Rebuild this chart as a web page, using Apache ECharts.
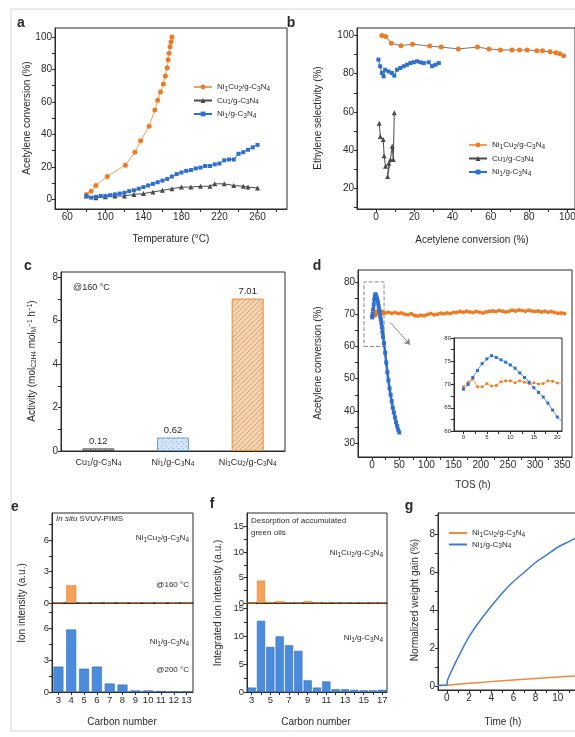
<!DOCTYPE html>
<html>
<head>
<meta charset="utf-8">
<script src="https://cdn.jsdelivr.net/npm/echarts@6/dist/echarts.min.js"></script>
<style>
  html, body { margin: 0; padding: 0; background: #fff; }
  #chart { width: 575px; height: 737px; }
</style>
</head>
<body>
<div id="chart"></div>
<script>
// ---- data ----
// a: conversion vs temperature
const aNiCu = [[80,3],[85,5],[90,8.5],[102,14],[121,21],[131,29],[137,36],[146,45],[152,55],[155,61],[158,66],[161,71],[163,76],[165,81],[166,86],[167,90],[168,94],[169,97],[170,100]]
const aCu = [[80,2],[90,1],[100,1.5],[110,2],[120,2],[130,3],[140,3.5],[150,4.5],[160,5.5],[170,6.5],[180,7.5],[190,7.5],[200,8],[210,8],[215,9.5],[225,9.5],[235,8.5],[245,8],[250,7.5],[260,7]]
const aNi = [[80,2],[85,1],[90,1.5],[95,2],[100,2],[105,2.5],[110,3],[115,3.5],[120,4],[125,5],[130,5.5],[135,6.5],[140,7.5],[145,8.5],[150,9.5],[155,10.5],[160,11.5],[165,12.5],[170,14],[175,15.5],[180,16.5],[185,17.5],[190,18],[195,19],[200,19.5],[205,20.5],[210,20.5],[215,21.5],[220,22],[225,24],[230,24.5],[235,24.5],[240,28],[245,29],[250,30.5],[255,32],[260,33.5]]

// b: selectivity vs conversion
const bNiCu = [[3,100],[5,99.5],[8,96],[13,94.7],[19,95.5],[28,94.5],[34,94],[43,93],[53,94],[59,93],[65,92.5],[71,92.5],[75,92.5],[79,92.5],[84,92],[87,92],[91,91.5],[94,91],[96,90.5],[98,89.5]]
const bCu = [[1.6,54],[2.2,47],[3.7,45.5],[4.2,37],[4.9,31.5],[6.6,33],[6,26],[7.5,35],[8.4,42],[9,35],[9.5,59.5]]
const bNi = [[1.2,87.4],[2.1,83.9],[3,80.4],[3.9,78.6],[4.7,82.1],[6.5,81.2],[8.2,80.4],[9.5,79],[10.9,82.1],[12.6,83],[14.4,83.9],[16.1,84.7],[17.9,85.6],[19.6,86],[21.4,86.5],[23.2,86],[24.9,85.6],[27.5,86],[29.3,84],[31,84.7],[32.8,85.6]]

// c: activity at 160 C
const cCats = ['Cu1/g-C3N4', 'Ni1/g-C3N4', 'Ni1Cu2/g-C3N4']
const cVals = [0.12, 0.62, 7.01]

// d: stability (TOS)
const dNiCu = [[0,69.5],[1,70.5],[2,71.2],[3,69.5],[4,69.5],[5,70.2],[6,69.7],[7,69.8],[8,70.6],[9,70.8],[10,70.8],[11,70.4],[12,70.8],[13,70.5],[14,70.2],[15,70.4],[16,70.1],[17,70.2],[18,70.8],[19,70.7],[20,70.3],
  [24,70.4],[30,70.6],[36,70.3],[42,70.5],[48,70.2],[54,70.4],[60,70.0],[66,69.8],[72,70.1],[78,69.6],[84,69.4],[90,69.7],[96,69.5],[102,69.9],[108,70.2],[114,69.8],[120,70.0],[126,70.3],[132,70.1],[138,70.4],[144,70.2],[150,70.6],[156,70.5],[162,70.8],[168,70.6],[174,70.9],[180,70.7],[186,70.5],[192,70.8],[198,70.6],[204,70.4],[210,70.7],[216,70.9],[222,71.0],[228,70.8],[234,71.1],[240,70.9],[246,70.7],[252,70.9],[258,71.2],[264,71.0],[270,71.3],[276,71.1],[282,70.9],[288,71.2],[294,71.0],[300,70.8],[306,71.0],[312,70.7],[318,70.9],[324,70.6],[330,70.8],[336,70.5],[342,70.3],[348,70.4],[354,70.2]]
const dNi = [[0,69],[1,70],[2,71.5],[3,73],[4,74.5],[5,75.5],[6,76.2],[7,75.8],[8,75.3],[9,74.8],[10,74.2],[11,73.5],[12,72.5],[13,71.5],[14,70.5],[15,69.3],[16,68.3],[17,67.3],[18,66],[19,64.5],[20,63],
  [22,61],[24,58],[26,55],[28,52],[30,49.5],[32,47],[34,45],[36,43],[38,41],[40,39.5],[42,38],[44,36.5],[46,35.3],[48,34.2],[50,33.3]]

// e: in situ SVUV-PIMS
const eCats = ['3','4','5','6','7','8','9','10','11','12','13']
const eNiCu = [0.05, 1.7, 0.05, 0.05, 0.05, 0.03, 0.03, 0.03, 0.02, 0.02, 0.02]
const eNi = [2.4, 5.9, 2.2, 2.4, 0.8, 0.7, 0.15, 0.15, 0.1, 0.05, 0.05]

// f: desorption of green oils
const fCats = ['3','4','5','6','7','8','9','10','11','12','13','14','15','16','17']
const fNiCu = [0, 4.4, 0.2, 0.4, 0.15, 0.1, 0.4, 0.1, 0.2, 0.1, 0.1, 0.15, 0.1, 0.1, 0.1]
const fNi = [0.8, 12.8, 8.1, 10, 8.4, 7.4, 2.1, 0.8, 1.9, 0.5, 0.5, 0.4, 0.3, 0.3, 0.4]

// g: weight gain
const gNiCu = [[-0.8,0.02],[0,0.05],[1,0.1],[2,0.15],[3,0.2],[4,0.24],[5,0.28],[6,0.32],[7,0.36],[8,0.4],[9,0.44],[10,0.48],[11,0.52],[12,0.55]]
const gNi = [[-0.8,0.05],[0,0.05],[0.05,0.3],[0.5,0.9],[1,1.5],[2,2.6],[3,3.45],[4,4.2],[5,4.9],[6,5.5],[7,6.0],[8,6.5],[9,6.9],[10,7.3],[11,7.6],[12,7.9]]

const nNiCu = 'Ni1Cu2/g-C3N4'
const nCu = 'Cu1/g-C3N4'
const nNi = 'Ni1/g-C3N4'

// ---- styles ----
const FONT = '"Liberation Sans", Arial, sans-serif'
const INK = '#2b2b2b'
const ORANGE = '#EE7B22'
const BLUE = '#2E6FD0'
const GRAY = '#4a4a4a'
const BAR_BLUE = '#4A8BDD'
const BAR_ORANGE = '#F5A35C'

const RICH = {
  s: { fontSize: 6.5, padding: [4, 0, 0, 0], fontFamily: FONT, color: INK },
  p: { fontSize: 6.5, padding: [0, 0, 4, 0], fontFamily: FONT, color: INK },
  i: { fontStyle: 'italic', fontSize: 8, fontFamily: FONT, color: INK }
}

function chem(s) {
  return s.trim().replace(/(\d+)/g, '{s|$1}')
}

function steps(a, b, st) {
  const out = []
  for (let v = a; v <= b + 1e-9; v += st) out.push(+v.toFixed(4))
  return out
}

function pattern(bg, fg, kind) {
  const c = document.createElement('canvas')
  c.width = c.height = 5
  const g = c.getContext('2d')
  g.fillStyle = bg
  g.fillRect(0, 0, 5, 5)
  g.strokeStyle = fg
  g.fillStyle = fg
  g.lineWidth = 0.8
  if (kind === 'diag') {
    g.beginPath()
    g.moveTo(0, 5); g.lineTo(5, 0)
    g.moveTo(-1, 1); g.lineTo(1, -1)
    g.moveTo(4, 6); g.lineTo(6, 4)
    g.stroke()
  } else {
    g.fillRect(1, 1, 1, 1)
    g.fillRect(3, 3, 1, 1)
  }
  return { image: c, repeat: 'repeat' }
}

function grid(left, top, width, height) {
  return { left, top, width, height, show: true, borderColor: INK, borderWidth: 1, outerBoundsMode: 'none', containLabel: false }
}

function vAxis(gi, min, max, labels, ticks, extra, fs) {
  return Object.assign({
    type: 'value', gridIndex: gi, min, max,
    axisLine: { show: true, onZero: false, lineStyle: { color: INK } },
    axisTick: { show: true, customValues: ticks, length: 3, lineStyle: { color: INK } },
    axisLabel: { customValues: labels, fontSize: fs || 10, color: INK, fontFamily: FONT, margin: 3 },
    splitLine: { show: false }
  }, extra || {})
}

function cAxis(gi, data, showLabel, interval) {
  return {
    type: 'category', gridIndex: gi, data,
    axisLine: { show: true, onZero: false, lineStyle: { color: INK } },
    axisTick: { show: showLabel, alignWithLabel: true, interval: 0, length: 3, lineStyle: { color: INK } },
    axisLabel: { show: showLabel, interval, fontSize: 9.5, color: INK, fontFamily: FONT, margin: 3 },
    splitLine: { show: false }
  }
}

function txt(x, y, text, o) {
  o = o || {}
  return {
    type: 'text', x, y, rotation: o.rot || 0, z: 100,
    style: {
      text, fill: INK, fontSize: o.size || 9, fontFamily: FONT,
      fontWeight: o.bold ? 'bold' : 'normal',
      align: o.align || 'center', verticalAlign: 'middle', rich: RICH
    }
  }
}

function lineSeries(name, gi, data, color, symbol, size, extra) {
  return Object.assign({
    type: 'line', name, xAxisIndex: gi, yAxisIndex: gi, data,
    symbol, symbolSize: size, showSymbol: symbol !== 'none',
    lineStyle: { width: 1, color }, itemStyle: { color },
    emphasis: { disabled: true }, animation: false
  }, extra || {})
}

function barSeries(gi, data, color, border, gap) {
  return {
    type: 'bar', xAxisIndex: gi, yAxisIndex: gi, data,
    barCategoryGap: gap,
    itemStyle: { color, borderColor: border, borderWidth: 0.6 },
    animation: false
  }
}

const cItemStyles = [
  { color: pattern('#c9c9c9', '#777', 'diag'), borderColor: '#555', borderWidth: 1 },
  { color: pattern('#d3e4f8', '#8fb5e6', 'dots'), borderColor: '#6a9fe0', borderWidth: 1 },
  { color: pattern('#f6d4b0', '#d9965a', 'diag'), borderColor: '#e9893a', borderWidth: 1 }
]

const legendBase = {
  orient: 'vertical', itemGap: 4, itemWidth: 18, itemHeight: 6, selectedMode: false,
  textStyle: { fontSize: 8, color: INK, fontFamily: FONT, rich: RICH },
  formatter: chem
}

const option = {
  backgroundColor: '#fff',
  animation: false,
  textStyle: { fontFamily: FONT },
  grid: [
    grid(55, 28, 232, 181),   // a
    grid(357, 28, 218, 181),  // b
    grid(61, 272, 224, 179),  // c
    grid(358, 270, 214, 187), // d
    grid(454, 338, 108, 93),  // d inset
    grid(52, 513, 141, 90),   // e top
    grid(52, 603, 141, 89),   // e bottom
    grid(247, 513, 140, 90),  // f top
    grid(247, 603, 140, 89),  // f bottom
    grid(438, 513, 142, 177)  // g
  ],
  xAxis: [
    vAxis(0, 47, 291, steps(60, 260, 40), steps(60, 280, 20)),
    vAxis(1, -10, 104, steps(0, 100, 20), steps(0, 100, 10)),
    Object.assign(cAxis(2, cCats, false, 0), {
      axisLabel: { show: true, interval: 0, fontSize: 9, color: INK, fontFamily: FONT, margin: 6, rich: RICH, formatter: chem }
    }),
    vAxis(3, -26, 368, steps(0, 350, 50), steps(0, 350, 25)),
    vAxis(4, -2, 21, steps(0, 20, 5), steps(0, 20, 2.5), null, 6),
    cAxis(5, eCats, false, 0),
    cAxis(6, eCats, true, 0),
    cAxis(7, fCats, false, 1),
    cAxis(8, fCats, true, 1),
    vAxis(9, -0.8, 12, steps(0, 12, 2), steps(0, 12, 1))
  ],
  yAxis: [
    vAxis(0, -6, 105.5, steps(0, 100, 20), steps(0, 100, 10)),
    vAxis(1, 9, 104, steps(20, 100, 20), steps(10, 100, 10)),
    vAxis(2, 0, 8.23, steps(0, 8, 2), steps(0, 8, 1)),
    vAxis(3, 25.7, 83.7, steps(30, 80, 10), steps(30, 80, 5)),
    vAxis(4, 60, 80, steps(60, 80, 5), steps(60, 80, 2.5), null, 6),
    vAxis(5, 0, 8.6, [0, 3, 6], steps(0, 7.5, 1.5), null, 9.5),
    vAxis(6, 0, 8.4, [0, 3, 6], steps(0, 7.5, 1.5), null, 9.5),
    vAxis(7, 0, 17.7, steps(0, 15, 5), steps(0, 15, 2.5), null, 9.5),
    vAxis(8, 0, 16, steps(0, 15, 5), steps(0, 15, 2.5), null, 9.5),
    vAxis(9, -0.2, 9.1, steps(0, 8, 2), steps(0, 9, 1))
  ],
  legend: [
    Object.assign({}, legendBase, { data: [nNiCu, nCu, nNi], left: 188, top: 78 }),
    Object.assign({}, legendBase, { data: [nNiCu, nCu, nNi], left: 463, top: 136 }),
    Object.assign({}, legendBase, { data: [nNiCu + ' ', nNi + ' '], left: 443, top: 524, itemGap: 2, itemHeight: 2 })
  ],
  series: [
    // a
    lineSeries(nNiCu, 0, aNiCu, ORANGE, 'circle', 5, { lineStyle: { width: 1, color: '#f3a15f' } }),
    lineSeries(nCu, 0, aCu, GRAY, 'triangle', 5),
    lineSeries(nNi, 0, aNi, BLUE, 'rect', 4),
    // b
    lineSeries(nNiCu, 1, bNiCu, ORANGE, 'circle', 5, { lineStyle: { width: 1, color: '#777' } }),
    lineSeries(nCu, 1, bCu, GRAY, 'triangle', 5),
    lineSeries(nNi, 1, bNi, BLUE, 'rect', 4),
    // c
    {
      type: 'bar', xAxisIndex: 2, yAxisIndex: 2, barWidth: 32, animation: false,
      data: cVals.map((v, i) => ({ value: v, itemStyle: cItemStyles[i] })),
      label: { show: true, position: 'top', distance: 2, fontSize: 9.5, color: INK, fontFamily: FONT, formatter: p => p.value.toFixed(2) }
    },
    // d
    lineSeries('dNiCu', 3, dNiCu, ORANGE, 'circle', 4, {
      lineStyle: { width: 2, color: ORANGE },
      markArea: {
        silent: true,
        itemStyle: { color: 'rgba(0,0,0,0)', borderColor: '#888', borderWidth: 1, borderType: 'dashed' },
        data: [[{ coord: [-15, 60] }, { coord: [22, 80] }]]
      }
    }),
    lineSeries('dNi', 3, dNi, BLUE, 'rect', 4, {
      lineStyle: { width: 2.5, color: BLUE },
      markLine: {
        silent: true, symbol: ['none', 'arrow'], symbolSize: 6,
        lineStyle: { color: '#888', type: 'solid', width: 1 },
        label: { show: false },
        data: [[{ coord: [33, 67.5] }, { coord: [70, 60.5] }]]
      }
    }),
    // d inset
    lineSeries('iNiCu', 4, dNiCu, ORANGE, 'circle', 3, { lineStyle: { width: 1, color: '#f2a468' } }),
    lineSeries('iNi', 4, dNi, BLUE, 'rect', 3, { lineStyle: { width: 1, color: '#6d9be0' } }),
    // e
    barSeries(5, eNiCu, BAR_ORANGE, '#E07F2A', '22%'),
    barSeries(6, eNi, BAR_BLUE, '#2f6dc0', '22%'),
    // f
    barSeries(7, fNiCu, BAR_ORANGE, '#E07F2A', '12%'),
    barSeries(8, fNi, BAR_BLUE, '#2f6dc0', '12%'),
    // g
    lineSeries(nNiCu + ' ', 9, gNiCu, '#EE8A3C', 'none', 0, { lineStyle: { width: 1.5, color: '#EE8A3C' } }),
    lineSeries(nNi + ' ', 9, gNi, '#3F7CC8', 'none', 0, { smooth: 0.3, lineStyle: { width: 1.5, color: '#3F7CC8' } })
  ],
  graphic: {
    elements: [
      { type: 'rect', shape: { x: 11, y: 9, width: 570, height: 722 }, style: { fill: 'none', stroke: '#d6d6d6', lineWidth: 1 }, z: 0 },
      // panel letters
      txt(21, 23, 'a', { bold: true, size: 14 }),
      txt(291, 23, 'b', { bold: true, size: 14 }),
      txt(28, 266, 'c', { bold: true, size: 14 }),
      txt(317, 266, 'd', { bold: true, size: 14 }),
      txt(15, 507, 'e', { bold: true, size: 14 }),
      txt(212, 504, 'f', { bold: true, size: 14 }),
      txt(409, 506, 'g', { bold: true, size: 14 }),
      // axis names
      txt(171, 239, 'Temperature (°C)', { size: 10 }),
      txt(27, 118, 'Acetylene conversion (%)', { size: 10, rot: Math.PI / 2 }),
      txt(472, 240, 'Acetylene conversion (%)', { size: 10 }),
      txt(318, 118, 'Ethylene selectivity (%)', { size: 10, rot: Math.PI / 2 }),
      txt(32, 361, 'Activity (mol{s|C2H4} mol{s|M}{p|−1} h{p|−1})', { size: 10, rot: Math.PI / 2 }),
      txt(318, 363, 'Acetylene conversion (%)', { size: 10, rot: Math.PI / 2 }),
      txt(473, 485, 'TOS (h)', { size: 10 }),
      txt(22, 603, 'Ion intensity (a.u.)', { size: 10, rot: Math.PI / 2 }),
      txt(122, 722, 'Carbon number', { size: 10 }),
      txt(218, 603, 'Integrated ion intensity (a.u.)', { size: 10, rot: Math.PI / 2 }),
      txt(316, 722, 'Carbon number', { size: 10 }),
      txt(415, 600, 'Normalized weight gain (%)', { size: 10, rot: Math.PI / 2 }),
      txt(503, 722, 'Time (h)', { size: 10 }),
      // annotations
      txt(73, 288, '@160 °C', { align: 'left', size: 9 }),
      txt(56, 519, '{i|In situ} SVUV-PIMS', { align: 'left', size: 8 }),
      txt(189, 538, chem(nNiCu), { align: 'right', size: 8 }),
      txt(189, 585, '@160 °C', { align: 'right', size: 8 }),
      txt(189, 642, chem(nNi), { align: 'right', size: 8 }),
      txt(189, 670, '@200 °C', { align: 'right', size: 8 }),
      txt(251, 521, 'Desorption of accumulated', { align: 'left', size: 8 }),
      txt(251, 533, 'green oils', { align: 'left', size: 8 }),
      txt(383, 553, chem(nNiCu), { align: 'right', size: 8 }),
      txt(383, 638, chem(nNi), { align: 'right', size: 8 })
    ]
  }
}

const chart = echarts.init(document.getElementById('chart'), null, { renderer: 'canvas' })
chart.setOption(option)
</script>
</body>
</html>
